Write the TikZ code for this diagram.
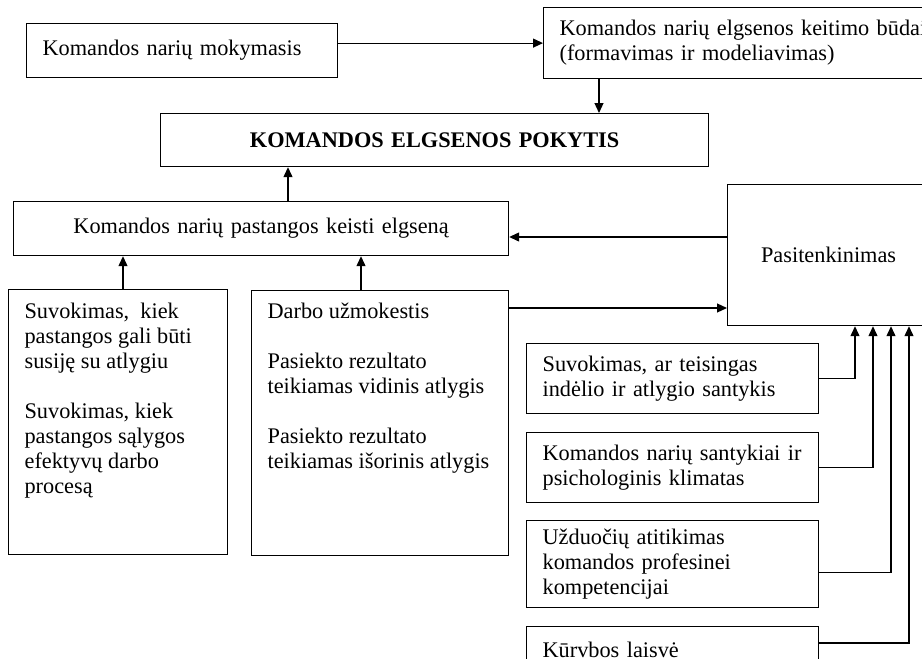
\documentclass[tikz,border=0pt]{standalone}
\usepackage{fontspec}
\setmainfont{Liberation Serif}
\usetikzlibrary{arrows.meta,positioning}

\begin{document}
\begin{tikzpicture}[x=1pt,y=-1pt,>={Triangle[length=10pt,width=9pt]},line width=1.2pt,
  box/.style={draw,align=left,inner xsep=16pt,inner ysep=0pt,anchor=north west,font=\fontsize{22.3}{25}\selectfont},
  txt/.style={inner sep=0pt,align=left,anchor=north west,font=\fontsize{22.3}{25}\selectfont}]
\clip (0,0) rectangle (922,659);
\node[box,text width=279pt,minimum height=54pt] (mok) at (26,23) {Komandos narių mokymasis};
\node[box,text width=368pt,minimum height=71pt] (bud) at (543,7) {Komandos narių elgsenos keitimo būdai\\(formavimas ir modeliavimas)};
\node[box,align=center,text width=516pt,minimum height=53pt] (pok) at (160,113) {\textbf{KOMANDOS ELGSENOS POKYTIS}};
\node[box,align=center,text width=463pt,minimum height=54pt] (pst) at (13,201) {Komandos narių pastangos keisti elgseną};
\node[box,align=center,text width=170pt,minimum height=141pt] (pas) at (727,184) {Pasitenkinimas};
% apatiniai blokai
\node[box,minimum width=219pt,minimum height=265pt] (vyk) at (8,289) {};
\node[txt] (vykT) at (24,302) {Suvokimas,~ kiek\\pastangos gali būti\\susiję su atlygiu\\[25pt]Suvokimas, kiek\\pastangos sąlygos\\efektyvų darbo\\procesą};
\node[box,minimum width=257pt,minimum height=265pt] (dar) at (251,290) {};
\node[txt] (darT) at (267,302) {Darbo užmokestis\\[25pt]Pasiekto rezultato\\teikiamas vidinis atlygis\\[25pt]Pasiekto rezultato\\teikiamas išorinis atlygis};
\node[box,text width=260pt,minimum height=70pt] (tei) at (526,343) {Suvokimas, ar teisingas\\indėlio ir atlygio santykis};
\node[box,text width=260pt,minimum height=70pt] (san) at (526,432) {Komandos narių santykiai ir\\psichologinis klimatas};
\node[box,text width=260pt,minimum height=87pt] (uzd) at (526,520) {Užduočių atitikimas\\komandos profesinei\\kompetencijai};
\node[box,text width=260pt,minimum height=46pt] (kur) at (526,626) {Kūrvbos laisvė};
% rodyklės
\draw[->] (mok.east |- bud.west) -- (bud.west);
\coordinate (bd) at ([xshift=56pt]bud.south west);
\draw[->] (bd) -- (bd |- pok.north);
\draw[->] ([xshift=275pt]pst.north west) -- ([xshift=128pt]pok.south west);
\draw[->] ([xshift=115pt]vyk.north west) -- ([xshift=110pt]pst.south west);
\draw[->] ([xshift=110pt]dar.north west) -- ([xshift=348pt]pst.south west);
\draw[->] ([yshift=-53pt]pas.north west) -- ([yshift=-36pt]pst.north east);
\draw[->] ([yshift=-18pt]dar.north east) -- ([yshift=-124pt]pas.north west);
\draw[->] (tei.east) -| ([xshift=128pt]pas.south west);
\draw[->] (san.east) -| ([xshift=146pt]pas.south west);
\draw[->] ([yshift=-8pt]uzd.east) -| ([xshift=164pt]pas.south west);
\draw[->] ([yshift=-17pt]kur.north east) -| ([xshift=182pt]pas.south west);
\end{tikzpicture}
\end{document}
